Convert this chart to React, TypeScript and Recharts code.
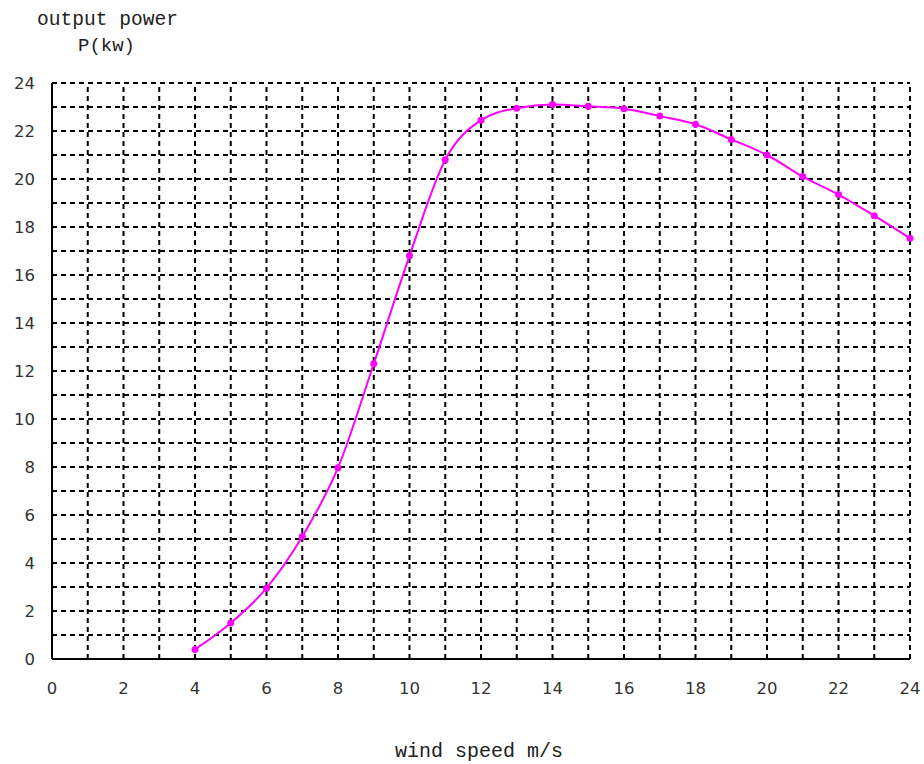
import React from 'react';
import { LineChart, Line, XAxis, YAxis, ReferenceLine } from 'recharts';

const windSpeed = [4, 5, 6, 7, 8, 9, 10, 11, 12, 13, 14, 15, 16, 17, 18, 19, 20, 21, 22, 23, 24];
const outputPower = [0.4, 1.5, 2.95, 5.1, 7.97, 12.3, 16.8, 20.8, 22.45, 22.95, 23.1, 23.03, 22.93, 22.62, 22.28, 21.65, 21.0, 20.1, 19.35, 18.47, 17.53];
const xTicks = [0, 2, 4, 6, 8, 10, 12, 14, 16, 18, 20, 22, 24];
const yTicks = [0, 2, 4, 6, 8, 10, 12, 14, 16, 18, 20, 22, 24];
const gridValues = [1, 2, 3, 4, 5, 6, 7, 8, 9, 10, 11, 12, 13, 14, 15, 16, 17, 18, 19, 20, 21, 22, 23, 24];

const data = windSpeed.map((v, i) => ({ v, p: outputPower[i] }));

const tickStyle = { fill: '#333', fontSize: 16.5, fontFamily: '"DejaVu Sans", Verdana, sans-serif' };
const mono = '"Liberation Mono", "DejaVu Sans Mono", monospace';

export default function App() {
  return (
    <div style={{ position: 'relative', width: 924, height: 764 }}>
      <style>{'html,body{margin:0;padding:0;overflow:hidden;}'}</style>
      <LineChart width={924} height={764} data={data} margin={{ top: 83, right: 14, bottom: 0, left: 0 }}>
        {gridValues.map((g) => (
          <ReferenceLine key={'x' + g} x={g} stroke="#000" strokeWidth={2} strokeDasharray="5 4" />
        ))}
        {gridValues.map((g) => (
          <ReferenceLine key={'y' + g} y={g} stroke="#000" strokeWidth={2} strokeDasharray="5 4" />
        ))}
        <XAxis
          dataKey="v"
          type="number"
          domain={[0, 24]}
          ticks={xTicks}
          height={105}
          tickLine={false}
          tickSize={0}
          tickMargin={23}
          axisLine={{ stroke: '#000', strokeWidth: 2 }}
          tick={tickStyle}
          interval={0}
        />
        <YAxis
          type="number"
          domain={[0, 24]}
          ticks={yTicks}
          width={52}
          tickLine={false}
          tickSize={0}
          tickMargin={17}
          axisLine={{ stroke: '#000', strokeWidth: 2 }}
          tick={tickStyle}
          interval={0}
        />
        <Line
          dataKey="p"
          type="monotone"
          stroke="#ff00ff"
          strokeWidth={2}
          dot={{ r: 3.5, fill: '#ff00ff', stroke: 'none' }}
          isAnimationActive={false}
        />
      </LineChart>
      <svg width={924} height={764} style={{ position: 'absolute', left: 0, top: 0, pointerEvents: 'none' }}>
        <text x={37} y={25} fontFamily={mono} fontSize={19.6} fill="#222">output power</text>
        <text x={78} y={51} fontFamily={mono} fontSize={19} fill="#222">P(kw)</text>
        <text x={395} y={757} fontFamily={mono} fontSize={20} fill="#222">wind speed m/s</text>
      </svg>
    </div>
  );
}
